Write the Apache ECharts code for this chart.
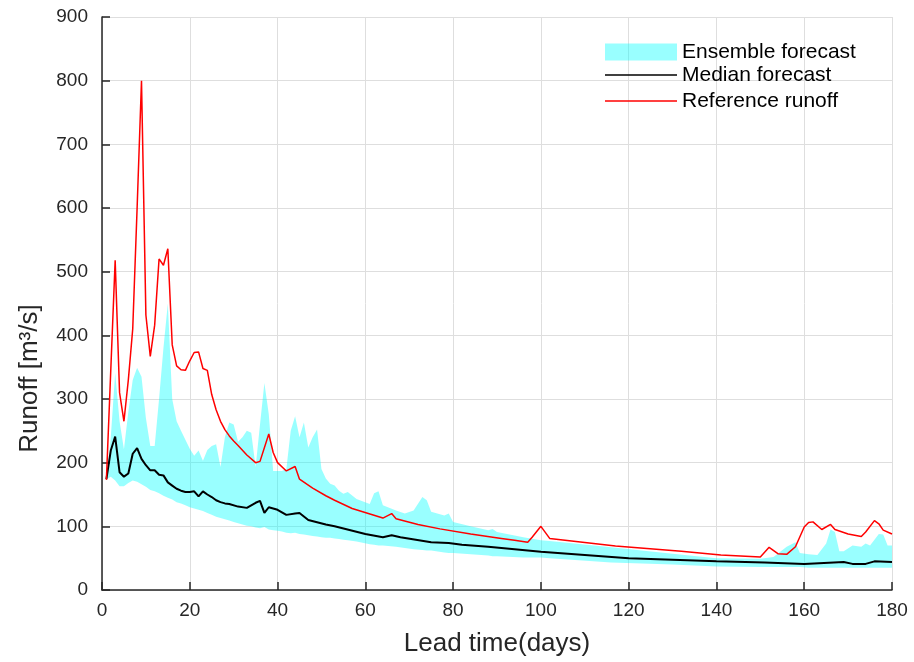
<!DOCTYPE html>
<html>
<head>
<meta charset="utf-8">
<script src="https://cdn.jsdelivr.net/npm/echarts@6/dist/echarts.min.js"></script>
<style>
  html, body { margin: 0; padding: 0; background: #ffffff; }
  #chart { width: 914px; height: 662px; }
</style>
</head>
<body>
<div id="chart"></div>
<script>
// Axis ticks
const xTicks = [0, 20, 40, 60, 80, 100, 120, 140, 160, 180];
const yTicks = [0, 100, 200, 300, 400, 500, 600, 700, 800, 900];

// Ensemble forecast envelope (lead day, lower bound, upper bound) in m3/s
const bandDays = [1,2,3,4,5,6,7,8,9,10,11,12,13,14,15,16,17,18,19,20,21,22,23,24,25,26,27,28,29,30,
  31,32,33,34,35,36,37,38,39,40,41,42,43,44,45,46,47,48,49,50,51,52,53,54,55,56,58,61,62,63,64,67,69,71,
  73,74,75,78,79,80,84,88,89,90,96,100,102,116,130,140,150,153,156,158,159,161,163,165,166,167,168,169,
  171,173,174,175,177,178,179,180];
const bandLow = [174,178,172,163,163,168,172,170,166,162,157,155,152,148,145,142,138,136,133,130,128,126,124,121,118,115,113,111,109,107,
  105,103,101,100,98,97,99,95,94,93,92,90,89,90,88,87,86,85,84,83,82,82,81,80,79,78,76,72,71,70,70,68,66,64,
  63,62,62,59,58,58,56,54,53,53,51,51,50,43,40,37,36,36,36,36,36,35,35,35,35,35,35,35,
  35,35,35,35,35,35,35,35];
const bandHigh = [174,240,341,265,221,280,330,349,335,270,226,226,300,380,450,300,265,250,236,222,211,219,203,220,226,229,193,240,263,260,
  233,240,250,247,193,260,325,276,187,187,187,190,250,273,240,263,224,240,252,190,175,167,164,156,151,154,143,135,152,155,133,125,120,125,
  146,141,123,117,120,107,100,94,96,91,83,78,77,67,57,50,49,52,68,75,58,56,55,73,95,91,61,61,
  70,68,73,70,88,87,70,70];

// Median forecast
const medianDays = [1,2,3,4,5,6,7,8,9,10,11,12,13,14,15,16,17,18,19,20,21,22,23,24,25,26,27,28,29,31,
  33,34,35,36,37,38,40,42,44,45,47,51,53,60,64,66,68,75,79,82,88,100,120,140,151,160,169,171,174,176,180];
const medianValues = [174,219,241,185,178,183,214,223,206,196,188,188,181,180,169,164,159,156,154,154,155,147,155,150,146,141,138,136,135,131,
  129,133,137,140,121,130,126,118,120,121,110,103,100,88,83,86,83,75,74,71,68,60,50,45,43,41,44,41,41,45,44];

// Reference (observed) runoff
const refDays = [1,3,4,5,6,7,8,9,10,11,12,13,14,15,16,17,18,19,20,21,22,23,24,25,26,27,28,29,30,31,
  33,35,36,38,39,40,42,44,45,48,51,53,57,64,66,67,72,77,84,91,94,97,98,100,102,117,132,141,150,152,
  154,156,158,160,161,162,164,166,167,170,173,174,176,177,178,180];
const refValues = [173,518,310,265,330,410,600,800,432,367,416,520,510,536,385,352,346,345,360,373,374,348,345,307,283,265,252,242,234,227,
  212,200,202,245,216,200,187,194,174,160,148,141,128,113,120,112,103,96,88,81,78,75,83,100,81,69,61,55,52,67,
  57,56,68,99,106,107,95,103,95,88,84,91,109,104,94,88];

const pairs = (xs, ys) => xs.map((x, i) => [x, ys[i]]);

const FONT = 'Liberation Sans, Arial, Helvetica, sans-serif';
const INK = '#262626';
const GRID = '#dedede';
const CYAN = 'rgba(0,255,255,0.4)';

// Envelope drawn as one closed polygon: upper edge forward, lower edge back
function renderBand(params, api) {
  if (params.dataIndex !== 0) return null;
  const pts = [];
  for (let i = 0; i < bandDays.length; i++) pts.push(api.coord([bandDays[i], bandHigh[i]]));
  for (let i = bandDays.length - 1; i >= 0; i--) pts.push(api.coord([bandDays[i], bandLow[i]]));
  return { type: 'polygon', shape: { points: pts }, style: { fill: CYAN, stroke: null } };
}

const legendBase = {
  orient: 'vertical',
  left: 605,
  padding: 0,
  itemWidth: 72,
  itemHeight: 17,
  textStyle: { fontFamily: FONT, fontSize: 21, color: '#000000' },
  selectedMode: false
};

const chart = echarts.init(document.getElementById('chart'), null, { renderer: 'canvas' });
chart.setOption({
  animation: false,
  backgroundColor: '#ffffff',
  grid: { left: 102, right: 22, top: 17, bottom: 69, containLabel: false },
  legend: [
    Object.assign({}, legendBase, { top: 41.5, data: [{ name: 'Ensemble forecast', icon: 'rect', itemStyle: { color: CYAN } }] }),
    Object.assign({}, legendBase, { top: 64.5, data: [{ name: 'Median forecast', icon: 'path://M0,0H72V1.6H0Z', itemStyle: { color: '#000000' } }] }),
    Object.assign({}, legendBase, { top: 90.5, data: [{ name: 'Reference runoff', icon: 'path://M0,0H72V1.3H0Z', itemStyle: { color: '#ff0000' } }] })
  ],
  xAxis: {
    type: 'value',
    min: xTicks[0],
    max: xTicks[xTicks.length - 1],
    interval: xTicks[1] - xTicks[0],
    name: 'Lead time(days)',
    nameLocation: 'middle',
    nameGap: 41,
    nameTextStyle: { fontFamily: FONT, fontSize: 26, color: INK },
    axisLine: { show: true, onZero: false, lineStyle: { color: INK, width: 1.5 } },
    axisTick: { show: true, inside: true, length: 8, lineStyle: { color: INK, width: 1.5 } },
    axisLabel: { fontFamily: FONT, fontSize: 19, color: INK, margin: 11 },
    splitLine: { show: true, lineStyle: { color: GRID, width: 1 } }
  },
  yAxis: {
    type: 'value',
    min: yTicks[0],
    max: yTicks[yTicks.length - 1],
    interval: yTicks[1] - yTicks[0],
    name: 'Runoff [m³/s]',
    nameLocation: 'middle',
    nameGap: 59,
    nameTextStyle: { fontFamily: FONT, fontSize: 26, color: INK, padding: [0, 150, 0, 0] },
    axisLine: { show: true, onZero: false, lineStyle: { color: INK, width: 1.5 } },
    axisTick: { show: true, inside: true, length: 8, lineStyle: { color: INK, width: 1.5 } },
    axisLabel: { fontFamily: FONT, fontSize: 19, color: INK, margin: 14 },
    splitLine: { show: true, lineStyle: { color: GRID, width: 1 } }
  },
  series: [
    {
      name: 'Ensemble forecast',
      type: 'custom',
      data: pairs(bandDays, bandLow),
      encode: { x: 0, y: 1 },
      renderItem: renderBand,
      itemStyle: { color: CYAN },
      silent: true,
      z: 1
    },
    {
      name: 'Median forecast',
      type: 'line',
      data: pairs(medianDays, medianValues),
      symbol: 'none',
      itemStyle: { color: '#000000' },
      lineStyle: { color: '#000000', width: 2 },
      z: 3
    },
    {
      name: 'Reference runoff',
      type: 'line',
      data: pairs(refDays, refValues),
      symbol: 'none',
      itemStyle: { color: '#ff0000' },
      lineStyle: { color: '#ff0000', width: 1.5 },
      z: 4
    }
  ]
});
</script>
</body>
</html>
